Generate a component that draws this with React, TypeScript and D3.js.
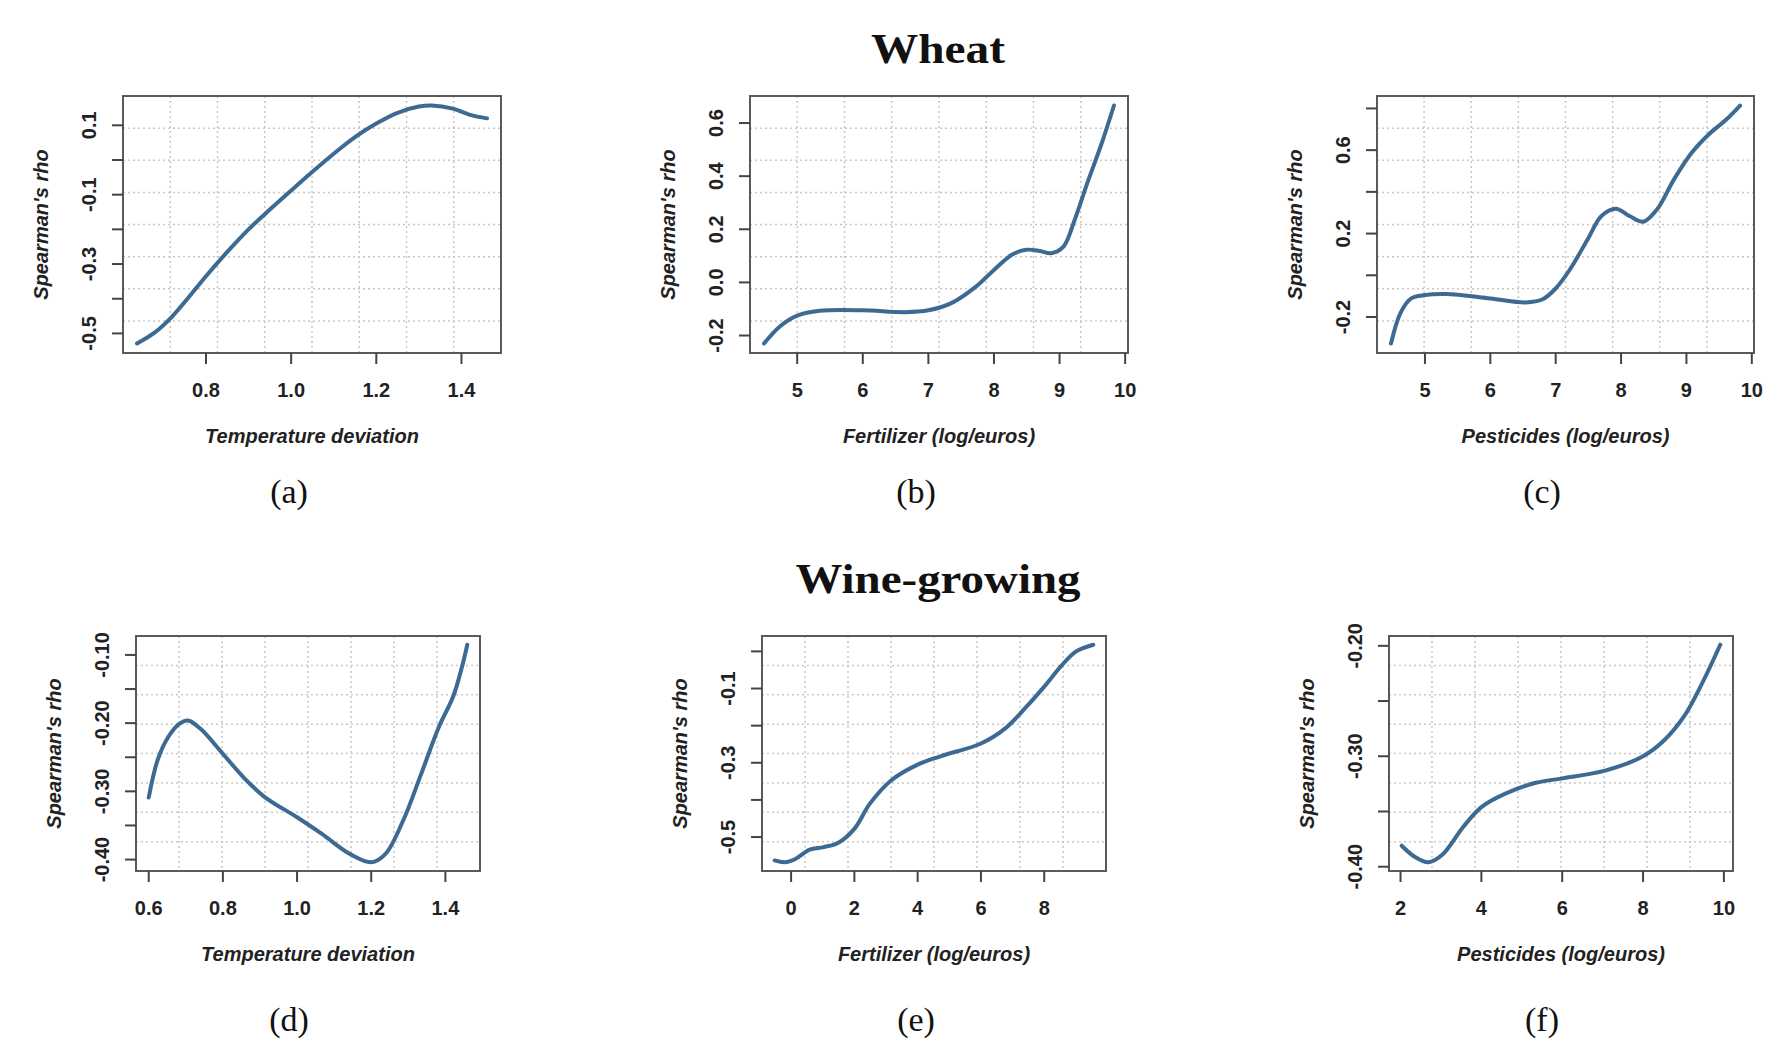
import React, { useEffect, useRef } from 'react';
import * as d3 from 'd3';

// Smoothed Spearman's rho curves
// (a) Wheat - temperature deviation
const wheatTempX = [0.638, 0.68, 0.72, 0.76, 0.8, 0.85, 0.9, 0.95, 1.0, 1.05, 1.1, 1.15, 1.2, 1.25, 1.3, 1.33, 1.38, 1.42, 1.46];
const wheatTempRho = [-0.529, -0.497, -0.452, -0.395, -0.335, -0.265, -0.2, -0.143, -0.088, -0.034, 0.018, 0.066, 0.105, 0.136, 0.154, 0.157, 0.148, 0.13, 0.12];

// (b) Wheat - fertilizer
const wheatFertX = [4.494, 4.74, 5.0, 5.34, 6.0, 6.64, 7.0, 7.35, 7.73, 8.0, 8.28, 8.49, 8.7, 8.87, 9.06, 9.23, 9.42, 9.64, 9.83];
const wheatFertRho = [-0.23, -0.165, -0.125, -0.107, -0.105, -0.112, -0.105, -0.078, -0.015, 0.047, 0.105, 0.123, 0.118, 0.11, 0.135, 0.235, 0.372, 0.522, 0.666];

// (c) Wheat - pesticides
const wheatPestX = [4.48, 4.63, 4.79, 5.0, 5.32, 6.0, 6.54, 6.8, 7.0, 7.22, 7.49, 7.7, 7.92, 8.13, 8.34, 8.55, 8.81, 9.08, 9.34, 9.61, 9.82];
const wheatPestRho = [-0.327, -0.178, -0.111, -0.095, -0.09, -0.111, -0.13, -0.115, -0.063, 0.029, 0.173, 0.284, 0.319, 0.284, 0.257, 0.316, 0.46, 0.587, 0.675, 0.747, 0.814];

// (d) Wine-growing - temperature deviation
const wineTempX = [0.6, 0.624, 0.653, 0.682, 0.706, 0.739, 0.8, 0.855, 0.912, 1.0, 1.066, 1.143, 1.2, 1.238, 1.286, 1.335, 1.383, 1.421, 1.445, 1.459];
const wineTempRho = [-0.309, -0.254, -0.22, -0.201, -0.196, -0.208, -0.245, -0.279, -0.308, -0.338, -0.362, -0.392, -0.404, -0.392, -0.343, -0.274, -0.205, -0.161, -0.117, -0.085];

// (e) Wine-growing - fertilizer
const wineFertX = [-0.517, -0.2, 0.135, 0.584, 1.03, 1.48, 2.0, 2.49, 3.17, 4.0, 4.74, 6.0, 6.76, 7.44, 8.0, 8.56, 9.01, 9.55];
const wineFertRho = [-0.563, -0.568, -0.559, -0.534, -0.527, -0.516, -0.478, -0.41, -0.347, -0.305, -0.282, -0.248, -0.208, -0.149, -0.095, -0.037, 0.0, 0.018];

// (f) Wine-growing - pesticides
const winePestX = [2.03, 2.35, 2.69, 3.04, 3.55, 4.0, 4.58, 5.35, 6.0, 7.06, 8.0, 8.51, 9.03, 9.46, 9.91];
const winePestRho = [-0.381, -0.391, -0.396, -0.389, -0.364, -0.346, -0.334, -0.324, -0.32, -0.313, -0.3, -0.286, -0.263, -0.234, -0.199];

// tick values and which of them carry labels
const tempXTicks = [0.6, 0.8, 1.0, 1.2, 1.4];
const logXTicksWheat = [5, 6, 7, 8, 9, 10];
const fertXTicksWine = [0, 2, 4, 6, 8];
const pestXTicksWine = [2, 4, 6, 8, 10];
const yTicksA = [-0.5, -0.4, -0.3, -0.2, -0.1, 0.0, 0.1];
const yLabelsA = [-0.5, -0.3, -0.1, 0.1];
const yTicksB = [-0.2, 0.0, 0.2, 0.4, 0.6];
const yTicksC = [-0.2, 0.0, 0.2, 0.4, 0.6, 0.8];
const yLabelsC = [-0.2, 0.2, 0.6];
const yTicksD = [-0.4, -0.35, -0.3, -0.25, -0.2, -0.15, -0.1];
const yLabelsD = [-0.4, -0.3, -0.2, -0.1];
const yTicksE = [-0.5, -0.4, -0.3, -0.2, -0.1, 0.0];
const yLabelsE = [-0.5, -0.3, -0.1];
const yTicksF = [-0.4, -0.35, -0.3, -0.25, -0.2];
const yLabelsF = [-0.4, -0.3, -0.2];

const groupTitles = ['Wheat', 'Wine-growing'];
const xTitles = ['Temperature deviation', 'Fertilizer (log/euros)', 'Pesticides (log/euros)'];
const panelTags = ['(a)', '(b)', '(c)', '(d)', '(e)', '(f)'];

const LINE = '#3c6a93';
const SANS = '"Liberation Sans", Arial, sans-serif';
const SERIF = '"Liberation Serif", "Times New Roman", serif';
const FS = 20;

// R prints a plain hyphen, not the unicode minus d3.format gives
const fmt = (spec) => {
  const f = d3.format(spec);
  return (v) => f(v).replace('\u2212', '-');
};

const App = () => {
  const ref = useRef(null);

  useEffect(() => {
    const root = d3.select(ref.current);
    root.selectAll('*').remove();

    const svg = root
      .append('svg')
      .attr('width', 1785)
      .attr('height', 1043)
      .style('display', 'block')
      .style('background', '#fff');

    const panels = [
      { x: wheatTempX, y: wheatTempRho, xt: tempXTicks, xf: fmt('.1f'), yt: yTicksA, yl: yLabelsA, yf: fmt('.1f'), title: xTitles[0], tag: panelTags[0], box: [123, 96, 501, 353], tagX: 289 },
      { x: wheatFertX, y: wheatFertRho, xt: logXTicksWheat, xf: fmt('d'), yt: yTicksB, yl: yTicksB, yf: fmt('.1f'), title: xTitles[1], tag: panelTags[1], box: [750, 96, 1128, 353], tagX: 916 },
      { x: wheatPestX, y: wheatPestRho, xt: logXTicksWheat, xf: fmt('d'), yt: yTicksC, yl: yLabelsC, yf: fmt('.1f'), title: xTitles[2], tag: panelTags[2], box: [1377, 96, 1754, 353], tagX: 1542 },
      { x: wineTempX, y: wineTempRho, xt: tempXTicks, xf: fmt('.1f'), yt: yTicksD, yl: yLabelsD, yf: fmt('.2f'), title: xTitles[0], tag: panelTags[3], box: [136, 636, 480, 871], tagX: 289 },
      { x: wineFertX, y: wineFertRho, xt: fertXTicksWine, xf: fmt('d'), yt: yTicksE, yl: yLabelsE, yf: fmt('.1f'), title: xTitles[1], tag: panelTags[4], box: [762, 636, 1106, 871], tagX: 916 },
      { x: winePestX, y: winePestRho, xt: pestXTicksWine, xf: fmt('d'), yt: yTicksF, yl: yLabelsF, yf: fmt('.2f'), title: xTitles[2], tag: panelTags[5], box: [1389, 636, 1733, 871], tagX: 1542 },
    ];

    // R-style 4% padding around the data range
    const padded = (vals) => {
      const [lo, hi] = d3.extent(vals);
      const r = hi - lo;
      return [lo - 0.04 * r, hi + 0.04 * r];
    };

    panels.forEach((p) => {
      const [x0, y0, x1, y1] = p.box;
      const xs = d3.scaleLinear().domain(padded(p.x)).range([x0, x1]);
      const ys = d3.scaleLinear().domain(padded(p.y)).range([y1, y0]);
      const g = svg.append('g');

      // dotted grid: 8 equal divisions of the plot box
      const gx = d3.range(1, 8).map((i) => x0 + ((x1 - x0) * i) / 8);
      const gy = d3.range(1, 8).map((i) => y0 + ((y1 - y0) * i) / 8);
      g.selectAll('.gv').data(gx).enter().append('line')
        .attr('x1', (d) => d).attr('x2', (d) => d).attr('y1', y0).attr('y2', y1)
        .attr('stroke', '#c8c8c8').attr('stroke-width', 1.5).attr('stroke-dasharray', '2,3');
      g.selectAll('.gh').data(gy).enter().append('line')
        .attr('y1', (d) => d).attr('y2', (d) => d).attr('x1', x0).attr('x2', x1)
        .attr('stroke', '#c8c8c8').attr('stroke-width', 1.5).attr('stroke-dasharray', '2,3');

      // curve
      const line = d3.line()
        .x((d) => xs(d[0]))
        .y((d) => ys(d[1]))
        .curve(d3.curveCatmullRom.alpha(0.5));
      g.append('path')
        .attr('d', line(p.x.map((v, i) => [v, p.y[i]])))
        .attr('fill', 'none')
        .attr('stroke', LINE)
        .attr('stroke-width', 4)
        .attr('stroke-linecap', 'round');

      // box
      g.append('rect')
        .attr('x', x0).attr('y', y0).attr('width', x1 - x0).attr('height', y1 - y0)
        .attr('fill', 'none').attr('stroke', '#5a5a5a').attr('stroke-width', 2);

      // x axis ticks and labels
      const xt = p.xt.filter((v) => xs(v) >= x0 - 0.5 && xs(v) <= x1 + 0.5);
      g.selectAll('.xt').data(xt).enter().append('line')
        .attr('x1', (d) => xs(d)).attr('x2', (d) => xs(d)).attr('y1', y1).attr('y2', y1 + 11)
        .attr('stroke', '#444').attr('stroke-width', 2);
      g.selectAll('.xl').data(xt).enter().append('text')
        .attr('x', (d) => xs(d)).attr('y', y1 + 37)
        .attr('text-anchor', 'middle').attr('dominant-baseline', 'central')
        .attr('font-family', SANS).attr('font-weight', 'bold').attr('font-size', FS).attr('fill', '#222')
        .text((d) => p.xf(d));

      // y axis ticks and labels
      g.selectAll('.yt').data(p.yt).enter().append('line')
        .attr('y1', (d) => ys(d)).attr('y2', (d) => ys(d)).attr('x1', x0).attr('x2', x0 - 11)
        .attr('stroke', '#444').attr('stroke-width', 2);
      g.selectAll('.yl').data(p.yl).enter().append('text')
        .attr('transform', (d) => `translate(${x0 - 34},${ys(d)}) rotate(-90)`)
        .attr('text-anchor', 'middle').attr('dominant-baseline', 'central')
        .attr('font-family', SANS).attr('font-weight', 'bold').attr('font-size', FS).attr('fill', '#222')
        .text((d) => p.yf(d));

      // axis titles
      g.append('text')
        .attr('x', (x0 + x1) / 2).attr('y', y1 + 83)
        .attr('text-anchor', 'middle').attr('dominant-baseline', 'central')
        .attr('font-family', SANS).attr('font-weight', 'bold').attr('font-style', 'italic')
        .attr('font-size', FS).attr('fill', '#222')
        .text(p.title);
      g.append('text')
        .attr('transform', `translate(${x0 - 82},${(y0 + y1) / 2}) rotate(-90)`)
        .attr('text-anchor', 'middle').attr('dominant-baseline', 'central')
        .attr('font-family', SANS).attr('font-weight', 'bold').attr('font-style', 'italic')
        .attr('font-size', FS).attr('fill', '#222')
        .text("Spearman's rho");

      // panel tag
      g.append('text')
        .attr('x', p.tagX).attr('y', y0 < 500 ? 503 : 1031)
        .attr('text-anchor', 'middle')
        .attr('font-family', SERIF).attr('font-size', 34).attr('fill', '#111')
        .text(p.tag);
    });

    // group titles
    [[groupTitles[0], 63, 134], [groupTitles[1], 593, 285]].forEach(([t, y, w]) => {
      svg.append('text')
        .attr('x', 938).attr('y', y)
        .attr('text-anchor', 'middle')
        .attr('font-family', SERIF).attr('font-weight', 'bold').attr('font-size', 42)
        .attr('textLength', w).attr('lengthAdjust', 'spacingAndGlyphs')
        .attr('fill', '#111')
        .text(t);
    });
  }, []);

  return <div ref={ref} style={{ position: 'absolute', left: 0, top: 0 }}></div>;
};

export default App;
